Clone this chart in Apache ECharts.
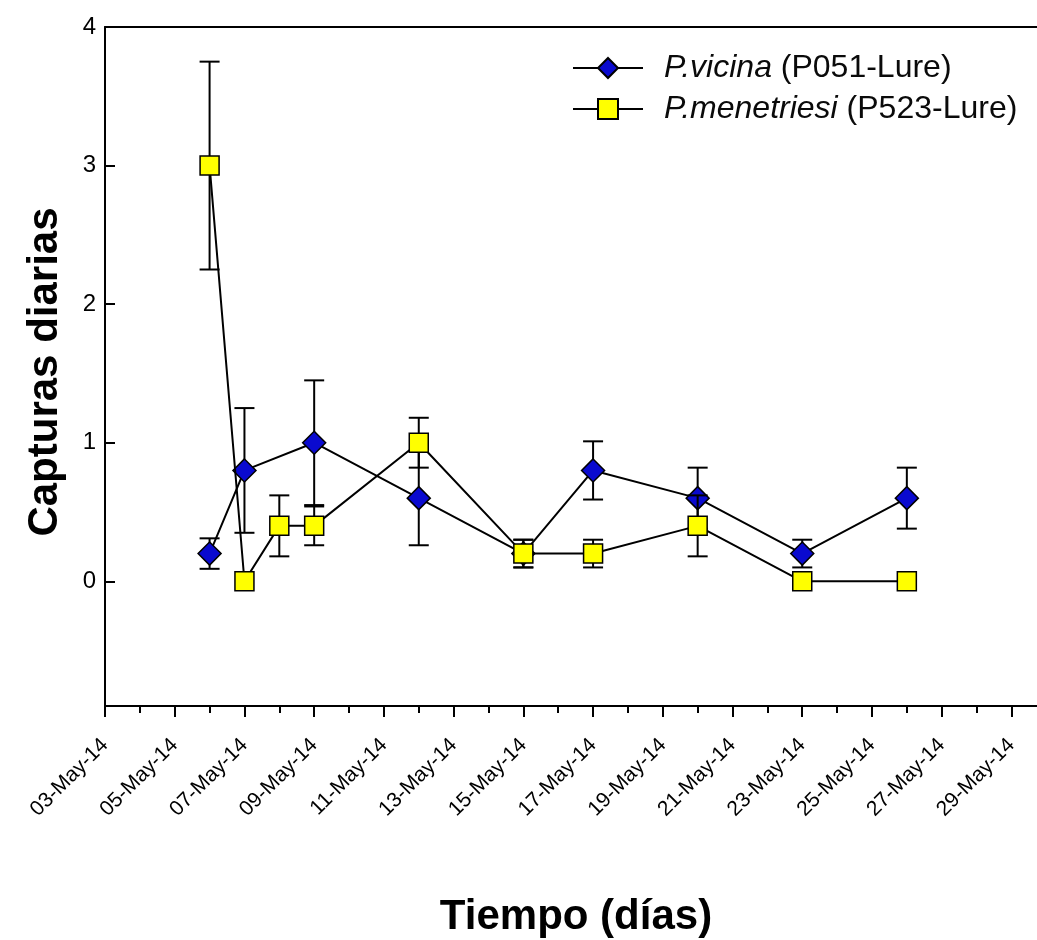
<!DOCTYPE html>
<html><head><meta charset="utf-8">
<script src="https://cdn.jsdelivr.net/npm/echarts@6/dist/echarts.min.js"></script>
<style>html,body{margin:0;padding:0;background:#fff;overflow:hidden;width:1037px;height:940px}#c{width:1055px;height:940px}</style>
</head><body><div id="c"></div>
<script>
// ---- data ----
const startDay = 3; // 03-May-14 = axis origin
const vicinaDates = ['06-May-14','07-May-14','09-May-14','12-May-14','15-May-14','17-May-14','20-May-14','23-May-14','26-May-14'];
const vicinaMean  = [0.2, 0.8, 1.0, 0.6, 0.2, 0.8, 0.6, 0.2, 0.6];
const vicinaErr   = [0.11, 0.45, 0.45, 0.34, 0.1, 0.21, 0.22, 0.1, 0.22];
const menetDates  = ['06-May-14','07-May-14','08-May-14','09-May-14','12-May-14','15-May-14','17-May-14','20-May-14','23-May-14','26-May-14'];
const menetMean   = [3.0, 0, 0.4, 0.4, 1.0, 0.2, 0.2, 0.4, 0, 0];
const menetErr    = [0.75, 0, 0.22, 0.14, 0.18, 0.1, 0.1, 0.22, 0, 0];
const yTicks = [0, 1, 2, 3, 4];
const seriesNames = ['P.vicina', 'P.menetriesi'];
const seriesLures = ['(P051-Lure)', '(P523-Lure)'];

const FONT = '"Liberation Sans", Arial, sans-serif';
const X_MAX = 27.25; // axis runs past the right edge of the picture
const dayOf = s => parseInt(s.slice(0, 2), 10) - startDay;
const pts = (dates, vals) => dates.map((d, i) => [dayOf(d), vals[i]]);
const errs = (dates, vals, e) => dates.map((d, i) => [dayOf(d), vals[i] - e[i], vals[i] + e[i]]);

function errRender(params, api) {
  const x = api.value(0), lo = api.value(1), hi = api.value(2);
  if (hi - lo <= 0) return null;
  const p1 = api.coord([x, hi]), p2 = api.coord([x, lo]);
  const w = 10;
  const style = { stroke: '#000', lineWidth: 2 };
  return { type: 'group', children: [
    { type: 'line', shape: { x1: p1[0], y1: p1[1], x2: p2[0], y2: p2[1] }, style },
    { type: 'line', shape: { x1: p1[0] - w, y1: p1[1], x2: p1[0] + w, y2: p1[1] }, style },
    { type: 'line', shape: { x1: p2[0] - w, y1: p2[1], x2: p2[0] + w, y2: p2[1] }, style }
  ]};
}

const chart = echarts.init(document.getElementById('c'), null, { renderer: 'canvas' });
chart.setOption({
  animation: false,
  backgroundColor: '#fff',
  grid: { left: 105, top: 27, right: 0, bottom: 234, show: false },
  legend: {
    orient: 'vertical', left: 572, top: 52, padding: 0, itemGap: 9,
    itemWidth: 70, itemHeight: 25, align: 'left',
    data: seriesNames,
    formatter: n => '{i|' + n + '} ' + seriesLures[seriesNames.indexOf(n)],
    textStyle: { fontSize: 32, fontFamily: FONT, color: '#0a0a0a', lineHeight: 32, padding: [0, 0, 0, 16],
      rich: { i: { fontStyle: 'italic', fontSize: 32, fontFamily: FONT, color: '#0a0a0a', lineHeight: 32 } } }
  },
  xAxis: [{
    type: 'value', min: 0, max: X_MAX, interval: 2, position: 'bottom',
    axisLine: { show: true, onZero: false, lineStyle: { color: '#000', width: 2 } },
    axisTick: { show: true, length: 11, lineStyle: { color: '#000', width: 2 } },
    minorTick: { show: true, splitNumber: 2, length: 7, lineStyle: { color: '#000', width: 2 } },
    axisLabel: {
      rotate: 45, fontSize: 21, fontFamily: FONT, color: '#000', margin: 36, showMaxLabel: false,
      formatter: v => { if (v % 2 !== 0 || v > 26) return ''; const d = v + startDay; return (d < 10 ? '0' : '') + d + '-May-14'; }
    },
    splitLine: { show: false }, minorSplitLine: { show: false }
  }, {
    type: 'value', min: 0, max: X_MAX, position: 'top',
    axisLine: { show: true, onZero: false, lineStyle: { color: '#000', width: 2 } },
    axisTick: { show: false }, axisLabel: { show: false }, splitLine: { show: false }
  }],
  yAxis: {
    type: 'value', min: -0.9, max: 4,
    axisLine: { show: true, onZero: false, lineStyle: { color: '#000', width: 2 } },
    axisTick: { show: true, inside: true, length: 10, lineStyle: { color: '#000', width: 2 }, customValues: yTicks },
    axisLabel: { customValues: yTicks, fontSize: 24, fontFamily: FONT, color: '#000', margin: 9 },
    splitLine: { show: false }
  },
  graphic: [
    { type: 'text', x: 45, y: 372, rotation: Math.PI / 2,
      style: { text: 'Capturas diarias', fontSize: 42, fontWeight: 'bold', fontFamily: FONT, fill: '#000', align: 'center', verticalAlign: 'middle' } },
    { type: 'text', x: 576, y: 917,
      style: { text: 'Tiempo (días)', fontSize: 42, fontWeight: 'bold', fontFamily: FONT, fill: '#000', align: 'center', verticalAlign: 'middle' } }
  ],
  series: [
    { type: 'custom', name: 'errV', renderItem: errRender, data: errs(vicinaDates, vicinaMean, vicinaErr), z: 1, silent: true },
    { type: 'line', name: seriesNames[0], data: pts(vicinaDates, vicinaMean), z: 2,
      symbol: 'diamond', symbolSize: 23, showAllSymbol: true,
      lineStyle: { color: '#000', width: 2 },
      itemStyle: { color: '#0A0ACF', borderColor: '#000', borderWidth: 1.5 } },
    { type: 'custom', name: 'errM', renderItem: errRender, data: errs(menetDates, menetMean, menetErr), z: 3, silent: true },
    { type: 'line', name: seriesNames[1], data: pts(menetDates, menetMean), z: 4,
      symbol: 'rect', symbolSize: 19, showAllSymbol: true,
      lineStyle: { color: '#000', width: 2 },
      itemStyle: { color: '#FFFF00', borderColor: '#000', borderWidth: 1.5 } }
  ]
});
</script>
</body></html>
